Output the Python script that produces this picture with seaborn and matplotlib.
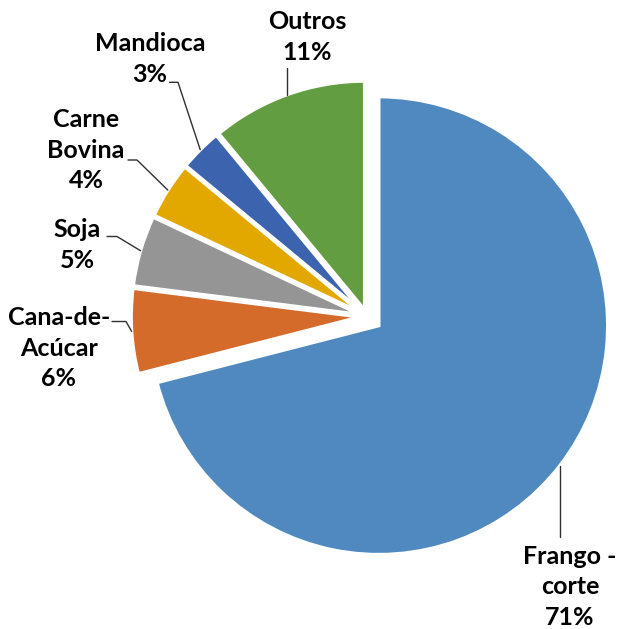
import numpy as np
import matplotlib
matplotlib.use('Agg')
import matplotlib.pyplot as plt
import seaborn as sns

# dados (%)
categorias = ['Frango -\ncorte', 'Cana-de-\nAcúcar', 'Soja', 'Carne\nBovina', 'Mandioca', 'Outros']
valores = [71, 6, 5, 4, 3, 11]
cores = ['#4F89BF', '#D46B2B', '#959595', '#E3A800', '#3C63AE', '#639D41']
explode = [0.065, 0.03, 0.03, 0.03, 0.03, 0.03]

# escala da figura: 229 px por unidade, centro do grafico em (367, 316.5) px
W, H = 619, 629
CX, CY, ESC = 367, 316.5, 229


def px(x, y):
    # converte pixel (origem no topo) para coordenadas de dados
    return (x - CX) / ESC, (CY - y) / ESC


sns.set_theme(style='white')
plt.rcParams['font.family'] = ['Lato', 'DejaVu Sans']

fig = plt.figure(figsize=(W / 100, H / 100), dpi=100)
ax = fig.add_axes([0, 0, 1, 1])

wedges, _ = ax.pie(valores, colors=sns.color_palette(cores), startangle=90,
                   counterclock=False, explode=explode,
                   wedgeprops=dict(edgecolor='white', linewidth=2.5))

# rotulos: centro do texto, saida da linha e cotovelo (em pixels)
pos_texto = [(570, 587), (59, 348), (77, 245), (86, 150), (150, 59), (307, 37)]
saida = [(None, 537), (112, 321.5), (107, 236.5), (128, 160), (169.5, 82.3), (None, 68.5)]
cotovelo = [None, (126, 321.5), (117, 236.5), (137, 160), (178, 82.3), None]

for w, lab, v, tp, s, c in zip(wedges, categorias, valores, pos_texto, saida, cotovelo):
    ang = np.deg2rad((w.theta1 + w.theta2) / 2)
    cx, cy = w.center
    ex, ey = cx + w.r * np.cos(ang), cy + w.r * np.sin(ang)
    if s[0] is None:
        xs, ys = [ex, ex], [px(0, s[1])[1], ey]
    else:
        (sx, sy), (kx, ky) = px(*s), px(*c)
        xs, ys = [sx, kx, ex], [sy, ky, ey]
    ax.plot(xs, ys, color='#303030', lw=1)
    tx, ty = px(*tp)
    ax.text(tx, ty, f'{lab}\n{v}%', ha='center', va='center',
            fontsize=18, fontweight='bold', color='black', linespacing=1.42)

ax.set_xlim(-CX / ESC, (W - CX) / ESC)
ax.set_ylim(-(H - CY) / ESC, CY / ESC)
ax.set_aspect('auto')
ax.axis('off')

fig.savefig('out.png', dpi=100)
